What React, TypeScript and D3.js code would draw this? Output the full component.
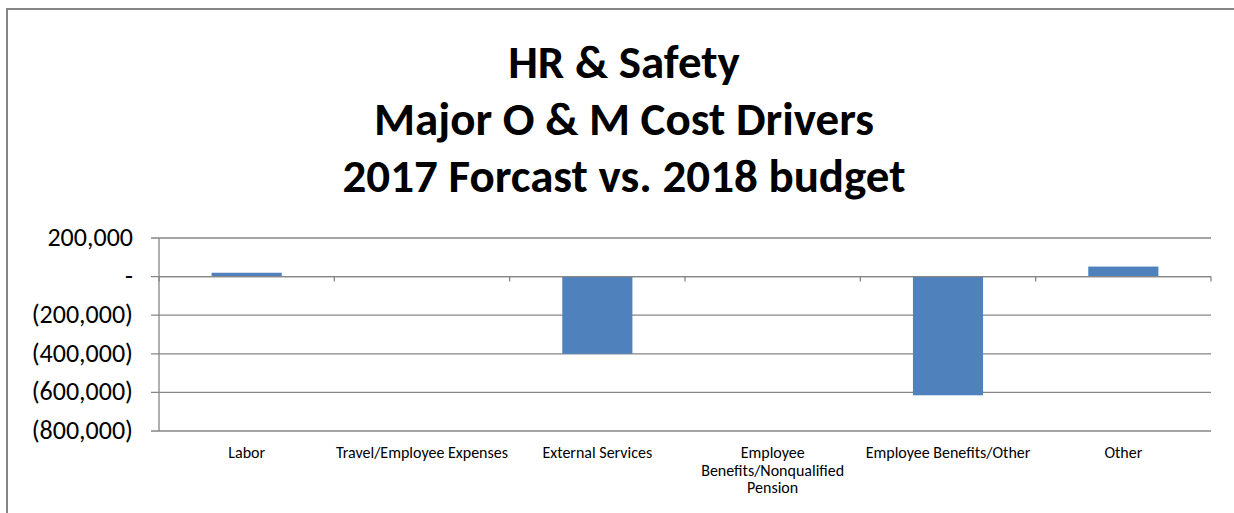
import React, { useEffect } from 'react';
import * as d3 from 'd3';

const categories: string[] = [
  'Labor',
  'Travel/Employee Expenses',
  'External Services',
  'Employee Benefits/Nonqualified Pension',
  'Employee Benefits/Other',
  'Other',
];

// wrapped the way the original axis shows them
const categoryLabelLines: string[][] = [
  ['Labor'],
  ['Travel/Employee Expenses'],
  ['External Services'],
  ['Employee', 'Benefits/Nonqualified', 'Pension'],
  ['Employee Benefits/Other'],
  ['Other'],
];

const variance: number[] = [20000, 0, -400000, 3000, -615000, 52000];

const yTicks: number[] = [200000, 0, -200000, -400000, -600000, -800000];

const titleLines: string[] = ['HR & Safety', 'Major O & M Cost Drivers', '2017 Forcast vs. 2018 budget'];

const font = 'Carlito, Calibri, Lato, "Open Sans", sans-serif';
const gridColor = '#868686';
const barColor = '#4f81bd';

const fmt = (v: number) => {
  if (v === 0) return '-';
  const s = d3.format(',')(Math.abs(v));
  return v < 0 ? `(${s})` : s;
};

const App: React.FC = () => {
  useEffect(() => {
    document.body.style.margin = '0';
  }, []);

  const width = 1234;
  const height = 513;
  const left = 159;
  const right = 1211;
  const top = 238;
  const bottom = 431;

  const x = d3.scaleBand<string>()
    .domain(categories)
    .range([left, right])
    .paddingInner(0.6)
    .paddingOuter(0.3);

  const y = d3.scaleLinear()
    .domain([-800000, 200000])
    .range([bottom, top]);

  const step = x.step();
  const y0 = y(0);

  return (
    <svg width={width} height={height} style={{ display: 'block', background: '#fff' }}>
      {/* chart area frame, cut off on the right and bottom */}
      <rect x={7} y={9} width={width + 20} height={height + 20} fill="#fff" stroke={gridColor} strokeWidth={2} />

      {titleLines.map((t, i) => (
        <text key={t} x={624} y={78 + i * 57} textAnchor="middle"
          fontFamily={font} fontWeight="bold" fontSize={47} fill="#000">{t}</text>
      ))}

      {/* gridlines + y ticks */}
      {yTicks.map(v => (
        <g key={v}>
          <line x1={left - 8} x2={right} y1={y(v)} y2={y(v)} stroke={gridColor} strokeWidth={1.3} />
          <text x={133} y={y(v) + 8} textAnchor="end" fontFamily={font} fontSize={26} fill="#000">{fmt(v)}</text>
        </g>
      ))}

      {/* y axis */}
      <line x1={left} x2={left} y1={top} y2={bottom} stroke={gridColor} strokeWidth={1.3} />

      {/* category tick marks on the zero line */}
      {d3.range(categories.length + 1).map(i => {
        const xx = left + i * step;
        return <line key={i} x1={xx} x2={xx} y1={y0} y2={y0 + 5} stroke={gridColor} strokeWidth={1.3} />;
      })}

      {/* bars */}
      {categories.map((c, i) => {
        const v = variance[i];
        const yTop = Math.min(y(v), y0);
        const h = Math.abs(y(v) - y0);
        if (h <= 0) return null;
        return <rect key={c} x={x(c)} y={yTop} width={x.bandwidth()} height={h} fill={barColor} />;
      })}

      {/* redraw zero line over bars */}
      <line x1={left} x2={right} y1={y0} y2={y0} stroke={gridColor} strokeWidth={1.3} />

      {/* category labels */}
      {categories.map((c, i) => (
        <text key={c} textAnchor="middle" fontFamily={font} fontSize={16} fill="#000">
          {categoryLabelLines[i].map((ln, j) => (
            <tspan key={j} x={(x(c) ?? 0) + x.bandwidth() / 2} y={458 + j * 17.5}>{ln}</tspan>
          ))}
        </text>
      ))}
    </svg>
  );
};

export default App;
